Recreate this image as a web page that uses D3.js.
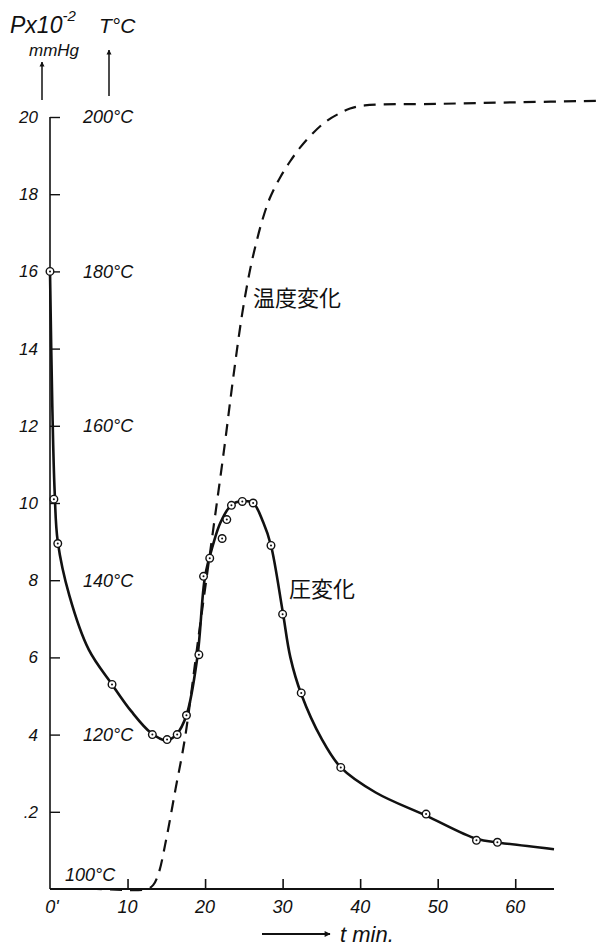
<!DOCTYPE html>
<html>
<head>
<meta charset="utf-8">
<script src="https://cdn.jsdelivr.net/npm/d3@7"></script>
<style>
  body { margin: 0; background: #fff; }
  text { font-family: "Liberation Sans", "DejaVu Sans", sans-serif; font-style: italic; fill: #111; }
  .cjk { font-family: "Noto Sans CJK JP", sans-serif; font-style: normal; }
</style>
</head>
<body>
<div id="chart"></div>
<script>
// time ticks (min) and their labels
const timeTicks = [0, 10, 20, 30, 40, 50, 60];
const timeLabels = ["0'", '10', '20', '30', '40', '50', '60'];

// pressure ticks (x10^-2 mmHg) and labels as printed
const pTicks = [2, 4, 6, 8, 10, 12, 14, 16, 18, 20];
const pLabels = ['.2', '4', '6', '8', '10', '12', '14', '16', '18', '20'];

// temperature labels on the second scale
const tempTicks = [100, 120, 140, 160, 180, 200];

// measured pressure points [t, P]
const pressurePoints = [
  [0, 16], [0.5, 10.1], [1, 8.95], [8, 5.3], [13.2, 4.0], [15.1, 3.87],
  [16.4, 4.0], [17.6, 4.5], [19.2, 6.07], [19.8, 8.1], [20.6, 8.57],
  [22.2, 9.08], [22.8, 9.57], [23.4, 9.94], [24.8, 10.04], [26.2, 10.0],
  [28.5, 8.9], [30, 7.12], [32.4, 5.08], [37.5, 3.15], [48.5, 1.94],
  [55, 1.26], [57.7, 1.21]
];

// drawn pressure curve [t, P]
const pressureCurve = [
  [0, 16], [0.3, 12.5], [0.6, 10.3], [1, 9], [2.5, 7.6], [5, 6.2], [8, 5.3],
  [10.5, 4.6], [13, 4.05], [15, 3.85], [16.3, 4.0], [17.6, 4.5], [19, 6.0],
  [20, 8.1], [21, 8.9], [22, 9.5], [23.4, 9.95], [24.8, 10.05], [26.2, 10.0],
  [27.5, 9.5], [28.5, 8.9], [30, 7.2], [31, 6.0], [32.4, 5.05], [35, 3.9],
  [37.5, 3.15], [42, 2.5], [48.5, 1.9], [55, 1.3], [58, 1.2], [65, 1.03]
];

// drawn temperature curve [t, T °C]
const tempCurve = [
  [0, 100], [6, 100], [12.5, 100], [13.3, 100.5], [14, 102], [15, 106.5],
  [16.2, 113], [17.4, 119.5], [19.2, 133], [21, 146.2], [22.5, 157.3],
  [23.6, 166], [24.8, 174.6], [25.8, 180.2], [26.6, 183.7], [27.4, 186.7],
  [28.4, 189.6], [29.7, 192.2], [31, 194.3], [32.3, 196.1], [33.9, 197.9],
  [35.7, 199.5], [37.4, 200.5], [38.7, 201.1], [40.6, 201.5], [50, 201.7],
  [60, 201.9], [71, 202.1]
];

const width = 603;
const height = 948;

const svg = d3.select('#chart')
  .append('svg')
  .attr('width', width)
  .attr('height', height);

const x = d3.scaleLinear().domain([0, 65]).range([50, 554]);
const y = d3.scaleLinear().domain([0, 20]).range([889, 117]);
const yT = d3.scaleLinear().domain([100, 200]).range([889, 117]);

const defs = svg.append('defs');
defs.append('marker')
  .attr('id', 'head')
  .attr('viewBox', '0 0 10 10')
  .attr('refX', 9).attr('refY', 5)
  .attr('markerWidth', 5).attr('markerHeight', 9)
  .attr('markerUnits', 'userSpaceOnUse')
  .attr('orient', 'auto')
  .append('path')
  .attr('d', 'M0,0 L10,5 L0,10 Z')
  .attr('fill', '#111');
defs.append('marker')
  .attr('id', 'head2')
  .attr('viewBox', '0 0 10 10')
  .attr('refX', 9).attr('refY', 5)
  .attr('markerWidth', 16).attr('markerHeight', 6)
  .attr('markerUnits', 'userSpaceOnUse')
  .attr('orient', 'auto')
  .append('path')
  .attr('d', 'M0,0 L10,5 L0,10 Z')
  .attr('fill', '#111');

// x axis
const xAxis = d3.axisTop(x)
  .tickValues(timeTicks.slice(1))
  .tickSize(10)
  .tickFormat('');
const gx = svg.append('g')
  .attr('transform', `translate(0,${y(0)})`)
  .call(xAxis);
gx.select('.domain').remove();
gx.selectAll('line').attr('stroke', '#111').attr('stroke-width', 1.6);
svg.append('line')
  .attr('x1', x(0)).attr('x2', x(65))
  .attr('y1', y(0)).attr('y2', y(0))
  .attr('stroke', '#111').attr('stroke-width', 2);

svg.append('g')
  .selectAll('text')
  .data(timeTicks)
  .enter().append('text')
  .attr('x', (d, i) => x(d) + (i === 0 ? 2 : 0))
  .attr('y', y(0) + 24)
  .attr('text-anchor', 'middle')
  .attr('font-size', 18)
  .text((d, i) => timeLabels[i]);

// y axis
const yAxis = d3.axisRight(y)
  .tickValues(pTicks)
  .tickSize(10)
  .tickFormat('');
const gy = svg.append('g')
  .attr('transform', `translate(${x(0)},0)`)
  .call(yAxis);
gy.select('.domain').remove();
gy.selectAll('line').attr('stroke', '#111').attr('stroke-width', 1.4);
svg.append('line')
  .attr('x1', x(0)).attr('x2', x(0))
  .attr('y1', y(20)).attr('y2', y(0))
  .attr('stroke', '#111').attr('stroke-width', 1.6);

svg.append('g')
  .selectAll('text')
  .data(pTicks)
  .enter().append('text')
  .attr('x', x(0) - 12)
  .attr('y', d => y(d))
  .attr('dy', '0.35em')
  .attr('text-anchor', 'end')
  .attr('font-size', 17)
  .text((d, i) => pLabels[i]);

// temperature labels
svg.append('g')
  .selectAll('text')
  .data(tempTicks)
  .enter().append('text')
  .attr('x', d => d === 100 ? x(0) + 15 : x(0) + 33)
  .attr('y', d => Math.min(yT(d), yT(100) - 14))
  .attr('dy', '0.35em')
  .attr('font-size', 18)
  .text(d => `${d}°C`);

// header
const head = svg.append('text')
  .attr('x', 10).attr('y', 33)
  .attr('font-size', 23);
head.append('tspan').text('Px10');
head.append('tspan').attr('dy', -12).attr('font-size', 15).text('-2');
svg.append('text')
  .attr('x', 29).attr('y', 56)
  .attr('font-size', 17)
  .text('mmHg');
svg.append('text')
  .attr('x', 99).attr('y', 33)
  .attr('font-size', 21)
  .text('T°C');

svg.append('line')
  .attr('x1', 42).attr('x2', 42).attr('y1', 100).attr('y2', 62)
  .attr('stroke', '#111').attr('stroke-width', 1.5)
  .attr('marker-end', 'url(#head)');
svg.append('line')
  .attr('x1', 109).attr('x2', 109).attr('y1', 96).attr('y2', 50)
  .attr('stroke', '#111').attr('stroke-width', 1.5)
  .attr('marker-end', 'url(#head)');

// time label
svg.append('line')
  .attr('x1', 262).attr('x2', 330).attr('y1', 934).attr('y2', 934)
  .attr('stroke', '#111').attr('stroke-width', 2)
  .attr('marker-end', 'url(#head2)');
svg.append('text')
  .attr('x', 340).attr('y', 942)
  .attr('font-size', 22)
  .text('t min.');

// temperature curve
const lineT = d3.line()
  .x(d => x(d[0]))
  .y(d => yT(d[1]))
  .curve(d3.curveCatmullRom.alpha(0.5));
svg.append('path')
  .datum(tempCurve)
  .attr('d', lineT)
  .attr('fill', 'none')
  .attr('stroke', '#111')
  .attr('stroke-width', 2.2)
  .attr('stroke-dasharray', '12,8');

// pressure curve
const lineP = d3.line()
  .x(d => x(d[0]))
  .y(d => y(d[1]))
  .curve(d3.curveCatmullRom.alpha(0.5));
svg.append('path')
  .datum(pressureCurve)
  .attr('d', lineP)
  .attr('fill', 'none')
  .attr('stroke', '#111')
  .attr('stroke-width', 2.6);

// measured points
const pts = svg.append('g')
  .selectAll('g')
  .data(pressurePoints)
  .enter().append('g')
  .attr('transform', d => `translate(${x(d[0])},${y(d[1])})`);
pts.append('circle')
  .attr('r', 3.8)
  .attr('fill', '#fff')
  .attr('stroke', '#111')
  .attr('stroke-width', 1.4);
pts.append('circle')
  .attr('r', 1)
  .attr('fill', '#111');

// series labels
svg.append('text')
  .attr('class', 'cjk')
  .attr('x', 253).attr('y', 306)
  .attr('font-size', 22)
  .text('温度変化');
svg.append('text')
  .attr('class', 'cjk')
  .attr('x', 289).attr('y', 597)
  .attr('font-size', 22)
  .text('圧変化');
</script>
</body>
</html>
